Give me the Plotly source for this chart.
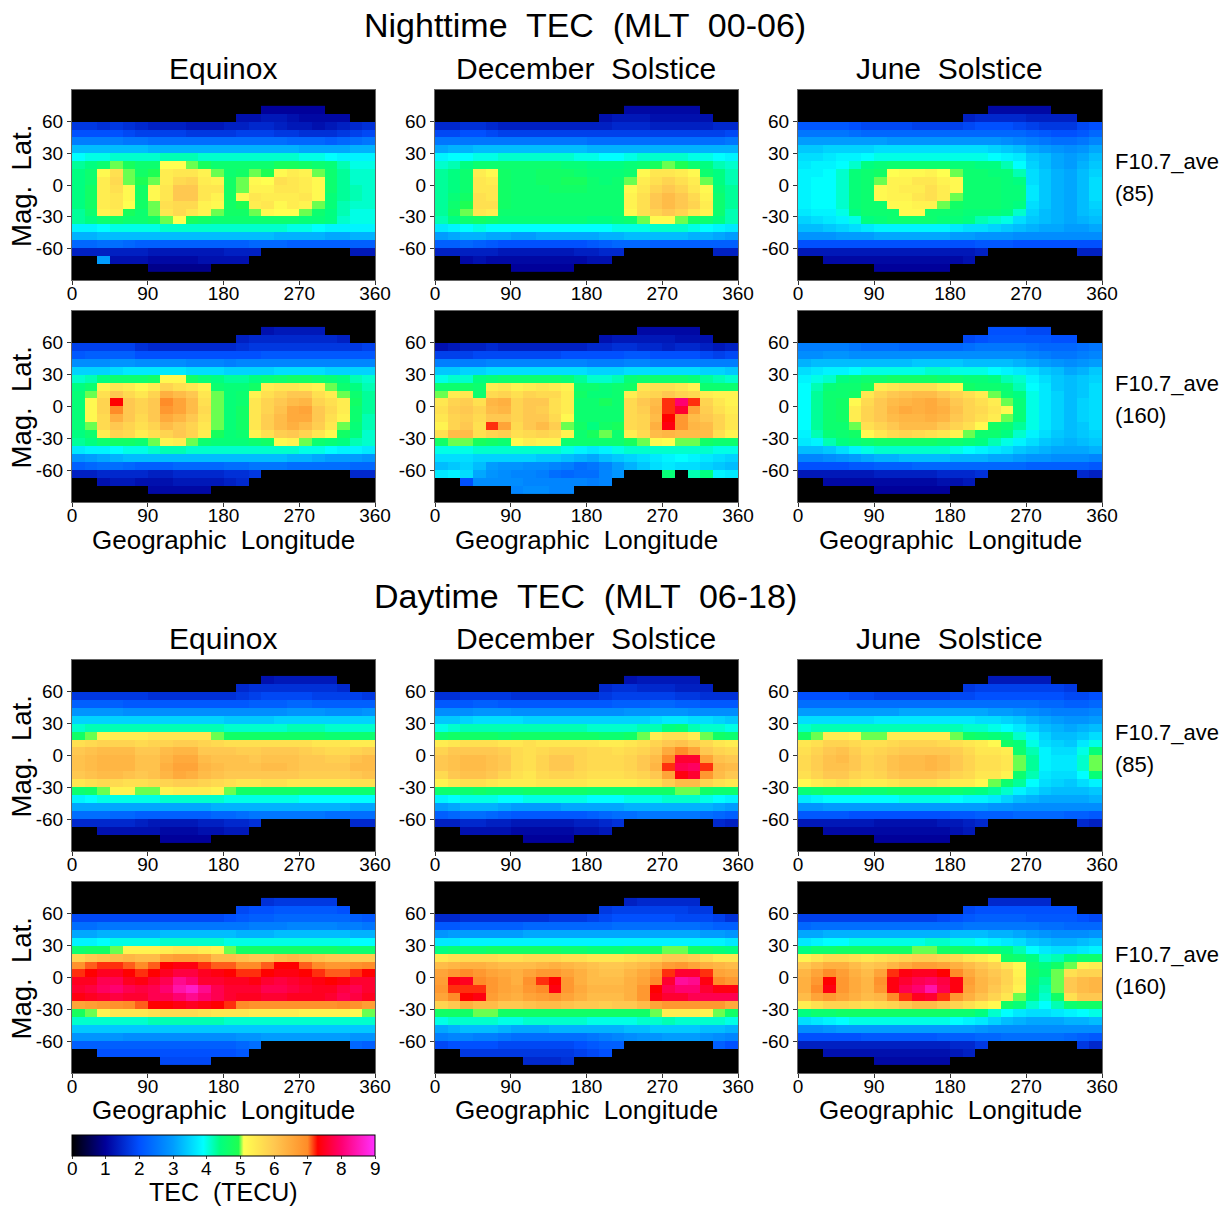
import plotly.graph_objects as go

W, H = 1229, 1207
lon_edges = [15 * i for i in range(25)]
lat_edges = [75 - 7.5 * i for i in range(22)]
x_ticks = [0, 90, 180, 270, 360]
y_ticks = [60, 30, 0, -30, -60]
cbar_ticks = [0, 1, 2, 3, 4, 5, 6, 7, 8, 9]
columns = ["Equinox", "December Solstice", "June Solstice"]

# values are TEC in tenths of a TECU, rows north to south, columns west to east
night_85_equinox = [
[0,0,0,0,0,0,0,0,0,0,0,0,0,0,0,10,10,10,10,10,0,0,0,0],
[0,0,0,0,0,0,0,0,0,0,0,0,0,12,12,13,13,12,11,11,11,11,0,0],
[17,17,16,17,16,15,14,14,14,13,13,13,14,14,15,15,14,13,13,12,13,14,15,16],
[20,20,20,20,19,18,18,18,18,17,17,17,17,18,18,18,17,17,16,16,16,17,18,19],
[26,26,26,26,25,25,24,24,24,24,24,24,24,24,24,24,24,23,23,23,22,23,24,25],
[33,33,33,33,33,33,32,32,32,32,32,32,32,32,32,32,32,32,31,31,31,31,32,32],
[39,40,40,41,41,41,41,42,42,42,41,41,41,41,41,41,41,41,40,40,39,38,38,38],
[43,44,46,50,48,46,46,51,51,50,48,46,46,46,46,46,48,48,47,46,45,42,40,40],
[44,46,52,56,50,47,49,54,55,55,53,50,46,47,50,49,52,54,53,50,46,43,41,41],
[44,46,54,57,50,49,50,54,57,58,54,53,47,50,52,51,56,55,54,52,46,43,41,41],
[44,47,54,56,52,47,52,55,60,60,55,55,47,50,53,53,55,55,54,52,46,43,42,41],
[44,47,54,55,52,47,52,55,60,60,55,53,47,52,55,54,54,54,55,52,45,43,42,41],
[44,47,54,55,51,47,50,56,57,57,53,52,47,49,54,55,52,54,53,50,45,42,41,41],
[43,46,53,54,48,46,50,55,57,55,53,50,47,47,50,52,51,51,50,46,44,42,40,40],
[43,44,46,47,46,46,47,50,51,48,47,46,46,46,46,46,46,46,45,45,44,41,40,40],
[38,38,39,40,40,40,40,41,41,41,41,41,41,41,41,41,41,40,40,39,38,38,38,38],
[32,32,33,33,33,33,33,33,33,33,33,33,33,33,33,33,32,32,32,32,31,31,32,32],
[23,23,24,24,23,22,22,22,22,22,22,22,22,22,23,23,23,22,22,22,22,22,22,22],
[14,14,14,14,14,14,13,13,13,13,13,13,14,14,14,0,0,0,0,0,0,0,13,13],
[0,0,30,12,12,12,11,11,11,11,12,12,12,12,0,0,0,0,0,0,0,0,0,0],
[0,0,0,0,0,0,9,9,9,9,9,0,0,0,0,0,0,0,0,0,0,0,0,0],
]
night_85_december = [
[0,0,0,0,0,0,0,0,0,0,0,0,0,0,0,11,11,11,11,11,11,0,0,0],
[0,0,0,0,0,0,0,0,0,0,0,0,0,12,13,13,13,12,12,12,12,12,0,0],
[15,15,16,16,15,14,14,14,14,14,14,14,14,14,15,15,15,14,14,14,14,14,15,15],
[19,19,20,20,19,18,18,18,18,18,18,18,18,18,18,18,18,18,18,18,18,18,18,19],
[25,25,25,25,25,25,25,25,25,25,25,25,24,24,24,24,24,24,24,24,24,24,24,25],
[31,32,32,33,33,33,33,33,33,33,33,33,32,32,32,32,32,32,32,32,32,32,32,32],
[38,39,39,40,40,41,41,41,41,41,41,40,40,39,39,40,41,41,41,41,40,40,39,38],
[41,42,44,46,46,46,46,46,46,46,45,45,44,44,44,45,46,48,50,49,46,44,42,41],
[43,44,46,54,52,47,46,46,47,47,47,46,45,45,45,46,52,55,55,54,52,46,44,42],
[43,44,46,55,54,47,46,46,47,47,48,48,46,45,46,50,54,56,58,56,54,50,44,42],
[43,44,46,55,55,47,46,46,46,47,47,47,46,46,46,52,55,58,60,58,55,52,45,43],
[43,45,47,56,55,47,46,46,46,46,46,46,46,46,46,53,56,60,62,60,57,53,46,43],
[43,46,49,56,56,47,46,46,46,46,46,46,46,46,46,53,56,60,62,60,58,54,46,43],
[43,47,50,55,54,46,46,46,46,46,46,46,46,46,46,52,56,58,60,58,55,53,46,42],
[42,44,46,47,46,45,45,45,45,45,45,45,44,44,45,46,50,52,52,50,47,46,44,42],
[37,38,39,40,39,39,39,39,39,39,39,39,39,39,40,40,40,41,41,41,40,39,38,37],
[30,31,32,32,31,31,30,30,31,31,31,31,31,32,32,33,33,33,33,33,32,32,31,30],
[22,22,23,22,21,20,20,20,20,20,20,20,21,22,23,23,23,22,22,22,22,22,22,22],
[14,14,14,14,14,13,13,13,13,13,13,14,14,15,15,0,0,0,0,0,0,0,14,14],
[0,0,11,12,11,11,11,11,11,11,11,11,12,12,0,0,0,0,0,0,0,0,0,0],
[0,0,0,0,0,0,10,10,10,10,10,0,0,0,0,0,0,0,0,0,0,0,0,0],
]
night_85_june = [
[0,0,0,0,0,0,0,0,0,0,0,0,0,0,0,11,11,11,11,11,0,0,0,0],
[0,0,0,0,0,0,0,0,0,0,0,0,0,14,15,15,15,15,14,14,14,14,0,0],
[21,21,21,21,20,19,19,19,19,18,18,18,18,19,20,20,20,19,18,17,17,17,19,20],
[25,25,25,25,24,23,23,23,23,23,23,23,23,23,23,23,23,23,22,21,20,20,21,23],
[30,30,30,30,30,30,30,29,29,29,29,29,29,29,29,29,28,27,26,25,24,24,25,27],
[34,34,35,35,35,35,36,36,36,36,36,36,36,36,36,35,34,33,31,30,29,28,29,31],
[36,36,37,38,38,39,40,40,40,40,40,40,40,40,40,39,38,37,34,33,31,30,31,33],
[37,38,38,39,41,44,45,46,46,46,46,46,45,45,44,44,42,39,35,33,31,30,32,34],
[38,38,39,41,45,46,47,51,52,52,53,51,50,46,46,45,45,42,36,34,32,31,33,35],
[38,39,39,41,45,46,50,53,53,55,55,53,52,46,46,46,45,44,36,34,32,31,33,36],
[38,39,39,41,45,46,52,53,54,54,56,54,52,46,46,46,45,45,37,34,32,31,33,36],
[38,39,39,41,45,46,52,53,53,55,56,54,50,46,46,46,45,45,37,34,32,31,33,36],
[38,39,39,41,45,46,46,52,52,53,53,50,47,46,46,46,45,44,36,34,32,31,33,35],
[37,38,38,40,44,46,46,46,52,52,46,46,46,45,45,45,44,41,35,33,32,31,33,34],
[35,36,37,38,40,44,45,46,46,46,46,45,45,44,42,41,40,36,34,33,32,31,32,33],
[33,33,34,35,36,37,38,38,38,38,38,38,37,36,36,35,34,33,32,31,31,30,30,31],
[29,29,29,30,30,30,31,31,31,31,31,31,30,30,29,29,29,28,28,28,28,28,28,28],
[20,20,20,20,20,20,20,20,20,20,20,20,20,20,21,21,21,20,20,20,20,20,20,20],
[13,13,13,13,13,13,13,13,13,13,13,13,13,13,14,0,0,0,0,0,0,0,14,14],
[0,0,11,11,11,11,11,11,11,11,11,11,11,12,0,0,0,0,0,0,0,0,0,0],
[0,0,0,0,0,0,10,10,10,10,10,10,0,0,0,0,0,0,0,0,0,0,0,0],
]
night_160_equinox = [
[0,0,0,0,0,0,0,0,0,0,0,0,0,0,0,12,13,13,13,13,0,0,0,0],
[0,0,0,0,0,0,0,0,0,0,0,0,0,14,15,15,15,15,15,15,15,14,0,0],
[18,18,18,18,18,16,15,15,15,15,15,15,15,16,17,17,17,17,17,17,17,17,17,18],
[21,22,22,22,22,20,20,20,20,20,20,20,20,20,20,21,21,21,21,21,21,21,21,21],
[28,28,28,29,29,28,28,28,28,27,27,27,26,27,27,27,27,27,27,27,27,27,27,27],
[35,35,35,36,37,37,37,37,37,36,36,36,35,35,35,35,36,36,36,36,35,35,35,35],
[41,42,44,46,46,46,47,52,52,47,45,44,43,43,44,45,46,47,47,46,45,44,42,41],
[44,46,53,55,54,52,54,58,56,55,53,46,45,45,47,54,55,55,54,53,50,46,44,42],
[45,50,56,60,57,55,58,64,62,60,55,50,45,46,53,56,58,60,60,56,54,50,46,43],
[45,52,58,73,60,58,60,70,66,62,56,50,45,46,55,58,60,62,63,58,56,54,47,43],
[45,52,58,70,60,58,60,68,66,62,57,50,45,47,55,58,61,65,66,60,57,54,46,43],
[45,52,57,64,60,57,60,65,63,60,56,50,45,47,55,59,62,65,65,60,56,53,46,42],
[45,50,57,60,58,56,58,62,60,58,55,50,45,47,55,59,62,64,62,59,55,50,45,42],
[44,46,54,58,57,54,56,58,60,58,54,48,45,46,53,56,59,60,58,55,52,47,44,41],
[43,44,46,47,47,46,50,53,54,50,46,45,45,45,46,47,52,53,50,46,45,44,42,41],
[37,38,38,39,40,40,41,42,42,41,41,41,41,41,41,41,41,41,40,40,39,38,38,37],
[29,30,31,32,33,33,33,33,33,33,33,33,33,33,33,33,33,32,32,31,30,30,30,29],
[22,23,24,24,23,22,22,22,23,23,23,23,24,24,25,25,25,24,24,24,24,24,23,23],
[14,14,15,15,15,15,14,14,15,15,15,15,16,16,17,0,0,0,0,0,0,0,15,15],
[0,0,12,13,13,12,12,12,13,13,13,13,14,15,0,0,0,0,0,0,0,0,0,0],
[0,0,0,0,0,0,11,11,11,11,11,0,0,0,0,0,0,0,0,0,0,0,0,0],
]
night_160_december = [
[0,0,0,0,0,0,0,0,0,0,0,0,0,0,0,0,11,11,11,11,11,0,0,0],
[0,0,0,0,0,0,0,0,0,0,0,0,0,12,13,13,13,13,13,12,12,12,0,0],
[12,13,14,14,15,14,14,14,14,14,14,14,15,15,16,16,15,15,14,15,15,14,13,14],
[18,18,18,19,19,19,19,19,19,19,20,20,20,20,20,21,21,20,20,20,20,19,18,19],
[26,26,26,26,27,27,27,27,27,27,27,27,26,26,26,27,27,26,26,26,26,26,26,26],
[34,34,35,35,36,36,36,36,36,36,36,36,35,35,35,36,36,36,36,36,36,35,35,34],
[40,41,41,44,45,46,46,46,46,46,45,43,41,41,42,45,46,46,46,46,45,43,42,41],
[46,46,47,46,54,55,53,54,55,54,53,46,46,45,46,47,55,56,56,55,53,46,46,46],
[50,54,55,46,57,58,56,58,57,57,54,47,45,45,46,54,57,58,60,58,57,54,53,53],
[55,58,59,56,63,64,58,60,60,56,54,46,46,48,46,57,60,62,72,80,72,58,55,53],
[56,59,60,58,62,63,58,60,59,56,54,46,46,46,46,57,59,63,72,76,66,59,56,54],
[55,58,59,57,60,60,58,60,60,57,52,46,46,46,46,57,58,62,73,68,62,60,58,55],
[53,58,60,56,72,66,57,60,62,59,50,47,44,47,48,57,58,64,74,68,63,62,58,55],
[56,62,62,56,58,59,56,57,58,57,53,46,48,50,46,54,57,62,63,62,62,62,56,53],
[47,50,50,48,47,46,52,54,53,53,46,46,46,46,46,48,50,52,51,50,50,47,46,46],
[40,40,40,41,41,41,41,41,41,41,40,38,37,38,40,41,41,41,41,41,41,41,40,40],
[36,36,36,35,35,35,35,35,34,34,33,32,31,33,34,35,36,37,38,39,38,37,36,35],
[33,34,35,33,30,29,29,28,28,27,26,24,25,27,30,32,34,36,37,36,36,35,34,33],
[37,38,36,31,29,28,27,27,26,24,23,24,24,27,29,0,0,0,45,0,42,44,38,37],
[0,0,20,28,28,28,28,27,27,27,27,27,26,27,0,0,0,0,0,0,0,0,0,0],
[0,0,0,0,0,0,27,28,28,27,27,0,0,0,0,0,0,0,0,0,0,0,0,0],
]
night_160_june = [
[0,0,0,0,0,0,0,0,0,0,0,0,0,0,0,20,20,20,19,19,0,0,0,0],
[0,0,0,0,0,0,0,0,0,0,0,0,0,19,20,21,21,21,21,21,20,20,0,0],
[26,26,26,26,25,24,24,24,23,23,23,23,23,24,25,25,25,25,24,23,23,23,24,25],
[28,28,29,29,28,28,28,28,28,28,28,28,28,28,28,28,28,28,27,26,25,25,26,27],
[32,33,33,33,33,33,33,33,33,34,34,34,34,33,33,33,33,32,31,30,29,28,29,30],
[36,37,38,38,39,40,40,40,40,40,41,41,40,40,40,39,38,37,36,34,33,31,32,34],
[38,40,41,44,45,46,46,47,47,47,47,46,46,45,45,44,42,41,38,36,34,33,34,35],
[39,42,45,46,46,48,54,55,56,56,56,54,52,47,46,46,45,42,39,37,34,33,34,36],
[39,43,46,46,47,55,58,60,61,62,62,60,58,56,54,50,46,44,40,37,35,33,34,36],
[39,43,46,47,52,57,60,62,63,64,65,63,60,58,56,54,50,45,40,37,35,33,35,36],
[39,43,46,47,54,58,60,63,65,64,65,64,61,58,57,55,52,45,40,37,35,33,35,36],
[39,43,46,47,54,58,60,62,63,63,64,63,60,58,56,54,50,45,40,37,35,33,35,36],
[39,43,46,46,50,56,58,60,62,62,62,60,58,56,52,47,46,43,40,37,35,33,34,36],
[38,42,45,46,47,52,55,57,58,57,56,55,53,50,46,46,44,41,38,36,34,33,34,35],
[37,38,42,44,45,46,47,47,47,47,47,46,46,45,44,42,40,38,36,34,33,32,33,34],
[33,33,34,36,38,40,41,41,41,41,41,41,40,39,38,37,36,34,33,32,31,31,31,32],
[27,27,28,29,30,31,32,32,33,33,33,33,32,32,32,31,31,30,29,29,28,28,28,27],
[20,20,20,20,21,21,22,22,22,23,23,23,23,23,23,23,23,23,22,22,22,22,22,21],
[13,13,13,13,13,13,14,14,14,14,14,15,15,15,16,0,0,0,0,0,0,0,15,14],
[0,0,11,11,11,11,11,11,11,11,11,12,12,13,0,0,0,0,0,0,0,0,0,0],
[0,0,0,0,0,0,10,10,10,10,10,10,0,0,0,0,0,0,0,0,0,0,0,0],
]
day_85_equinox = [
[0,0,0,0,0,0,0,0,0,0,0,0,0,0,0,12,13,13,13,13,13,0,0,0],
[0,0,0,0,0,0,0,0,0,0,0,0,0,15,16,16,16,16,16,16,16,15,0,0],
[17,17,17,17,17,17,16,16,16,16,16,16,16,17,18,19,19,19,19,18,18,18,18,17],
[22,22,22,22,21,21,21,21,21,21,21,21,21,21,22,22,22,23,23,22,22,22,22,22],
[29,29,29,29,28,28,28,28,28,28,28,28,28,28,28,28,28,29,29,29,28,28,28,29],
[35,35,35,35,35,35,35,35,35,35,35,35,34,34,34,34,35,35,35,35,35,35,35,35],
[41,42,42,42,42,42,42,42,42,42,42,42,41,41,41,41,41,42,42,42,41,41,41,41],
[47,50,53,54,54,54,55,55,55,55,55,50,47,47,47,47,47,47,47,47,46,46,46,46],
[56,57,58,58,58,57,58,58,59,59,58,57,56,56,56,56,56,56,56,55,55,55,54,54],
[60,61,62,62,62,60,60,62,63,63,60,60,60,59,59,60,60,60,59,58,57,57,58,59],
[61,62,63,63,63,61,61,63,65,65,62,61,61,61,60,61,61,61,60,60,59,59,61,62],
[61,62,63,63,63,61,61,64,66,66,63,62,61,61,61,62,62,61,60,60,60,60,62,62],
[60,61,62,62,61,60,61,63,65,64,62,61,60,60,60,60,60,60,59,59,59,59,60,61],
[55,56,57,57,56,56,57,58,59,59,58,57,56,55,55,56,56,55,55,55,55,55,56,56],
[46,47,50,53,53,50,50,53,54,54,54,53,50,47,47,47,47,47,46,46,46,46,46,46],
[38,39,40,40,40,40,40,41,41,41,41,41,40,40,40,40,40,40,39,39,39,39,39,39],
[31,31,31,31,31,31,31,31,31,31,31,32,32,32,32,32,32,32,32,32,32,32,31,31],
[24,24,24,23,23,22,22,22,22,22,22,23,23,24,25,25,25,25,25,25,24,24,24,24],
[15,15,15,15,15,14,13,13,13,13,14,14,15,15,16,0,0,0,0,0,0,0,15,15],
[0,0,12,12,12,12,12,11,11,11,12,12,13,13,0,0,0,0,0,0,0,0,0,0],
[0,0,0,0,0,0,0,10,10,10,10,0,0,0,0,0,0,0,0,0,0,0,0,0],
]
day_85_december = [
[0,0,0,0,0,0,0,0,0,0,0,0,0,0,0,12,13,13,13,13,13,0,0,0],
[0,0,0,0,0,0,0,0,0,0,0,0,0,15,16,16,15,15,15,14,14,14,0,0],
[16,16,17,17,17,17,16,16,16,16,16,16,16,17,18,18,18,18,18,17,17,16,16,16],
[21,21,21,22,22,21,21,21,21,21,21,21,21,21,22,22,22,23,23,22,22,21,21,21],
[28,28,28,29,29,29,28,28,28,28,28,28,28,28,28,29,29,29,29,29,28,28,28,28],
[34,34,35,36,36,36,36,35,35,35,35,35,35,35,35,35,35,36,37,37,36,36,35,34],
[40,41,42,42,42,42,42,42,42,42,42,42,41,41,41,41,42,42,44,45,42,41,41,40],
[46,47,47,47,47,46,47,47,47,47,47,47,47,46,46,47,50,54,56,56,54,50,47,46],
[54,55,56,56,56,55,55,56,55,55,55,55,55,54,54,55,56,58,60,61,59,57,55,54],
[58,60,60,60,60,59,57,56,57,58,58,58,57,57,56,57,58,60,65,70,66,60,58,57],
[60,61,62,62,61,60,57,56,58,60,60,58,57,57,57,58,60,62,70,76,76,66,61,60],
[60,61,62,62,61,60,57,56,58,60,60,58,57,57,57,58,60,63,72,78,79,72,63,62],
[57,60,61,61,60,58,56,55,57,58,58,57,56,56,56,57,58,60,66,74,76,68,62,60],
[53,55,56,56,55,54,54,54,55,55,55,55,54,54,54,54,55,56,59,62,62,58,56,55],
[46,46,46,47,46,46,46,47,47,47,47,47,46,46,46,46,46,47,47,50,50,47,46,46],
[38,39,40,40,40,39,39,40,40,40,40,40,39,39,39,40,40,40,41,41,41,40,39,38],
[30,31,32,32,32,31,30,30,30,30,31,31,31,31,31,32,32,32,32,32,32,32,31,30],
[22,23,24,24,23,22,21,21,21,21,21,21,22,23,24,24,25,25,25,25,25,24,23,22],
[14,14,15,15,14,14,13,13,13,13,13,14,14,15,16,0,0,0,0,0,0,0,15,14],
[0,0,12,12,12,12,11,11,11,11,11,12,12,13,0,0,0,0,0,0,0,0,0,0],
[0,0,0,0,0,0,0,10,10,10,10,0,0,0,0,0,0,0,0,0,0,0,0,0],
]
day_85_june = [
[0,0,0,0,0,0,0,0,0,0,0,0,0,0,0,13,13,13,13,13,0,0,0,0],
[0,0,0,0,0,0,0,0,0,0,0,0,0,17,18,18,18,18,18,18,18,17,0,0],
[20,20,20,20,19,19,18,18,18,18,18,18,19,19,20,20,20,20,20,20,20,19,19,20],
[24,24,24,24,24,24,24,24,24,24,24,24,24,24,24,24,24,24,24,23,23,22,22,23],
[30,30,30,30,30,30,30,30,31,31,31,31,31,31,31,30,30,29,28,27,26,26,26,27],
[36,36,36,36,36,36,37,37,37,37,37,37,37,37,36,36,35,34,32,31,30,29,29,30],
[41,42,42,42,42,42,42,42,42,42,42,42,42,41,41,40,39,37,35,33,32,31,32,33],
[47,50,54,54,53,50,50,54,54,54,54,54,50,47,46,45,44,41,38,35,33,33,34,36],
[55,56,58,58,57,56,56,57,58,58,58,57,56,55,54,52,47,45,40,36,35,34,37,40],
[56,58,60,61,59,57,58,59,60,60,60,60,59,57,55,55,54,46,42,38,36,36,40,45],
[57,59,61,62,60,58,59,61,62,62,63,62,60,58,56,56,55,50,43,38,37,37,41,50],
[57,59,61,61,60,58,59,61,62,62,63,62,60,58,56,56,55,50,43,38,37,37,41,50],
[56,58,60,60,58,57,58,60,61,61,61,60,58,57,55,55,53,46,42,37,36,36,39,45],
[52,54,55,56,55,54,54,55,56,56,56,55,54,54,52,50,46,43,39,36,35,34,36,38],
[45,46,47,47,47,46,46,47,47,47,47,47,46,45,44,43,41,38,36,34,33,33,33,34],
[37,38,39,39,39,39,39,39,40,40,40,40,39,38,38,37,35,33,32,31,31,31,31,32],
[29,29,30,30,30,30,30,30,30,30,30,30,30,30,30,29,29,28,28,28,28,28,28,28],
[21,21,21,21,20,20,20,20,20,20,20,20,21,21,22,22,22,23,23,23,23,22,22,21],
[13,13,13,13,13,13,12,12,12,12,12,13,13,14,15,0,0,0,0,0,0,0,15,14],
[0,0,11,11,11,11,11,11,11,11,11,11,12,13,0,0,0,0,0,0,0,0,0,0],
[0,0,0,0,0,0,10,10,10,10,10,10,0,0,0,0,0,0,0,0,0,0,0,0],
]
day_160_equinox = [
[0,0,0,0,0,0,0,0,0,0,0,0,0,0,0,16,17,17,17,17,17,0,0,0],
[0,0,0,0,0,0,0,0,0,0,0,0,0,19,20,20,21,21,21,21,21,20,0,0],
[19,19,19,19,19,19,19,19,19,19,19,19,20,21,22,22,23,23,23,23,23,23,22,21],
[24,24,25,25,25,25,25,25,25,25,25,25,25,25,26,26,26,27,27,27,27,26,26,25],
[31,31,32,32,32,32,32,33,33,33,33,33,33,32,32,32,33,33,33,33,33,33,32,32],
[38,38,39,40,40,40,40,41,41,41,41,41,40,40,40,40,40,40,40,40,40,40,39,39],
[46,47,47,50,53,53,53,54,55,55,54,53,50,47,47,47,47,47,47,47,47,46,46,46],
[58,60,61,62,63,62,62,66,67,67,66,62,62,61,60,60,62,63,62,61,60,60,59,59],
[69,71,72,72,71,70,71,73,74,74,72,71,71,70,70,71,73,73,71,70,68,68,69,70],
[72,73,75,75,73,72,73,75,77,77,75,74,73,72,72,73,74,74,73,72,71,71,72,73],
[75,75,78,78,75,74,76,78,82,80,76,76,75,75,74,76,77,76,75,74,73,74,76,76],
[76,77,79,80,78,77,78,80,84,86,82,78,76,76,76,78,78,77,76,75,75,77,78,76],
[74,75,76,77,76,76,78,78,80,82,80,78,76,75,75,76,76,75,75,75,76,78,77,75],
[66,67,68,69,70,71,73,73,74,75,74,73,72,70,69,69,69,69,69,69,69,70,69,67],
[48,50,53,55,55,55,56,57,57,57,56,55,55,55,54,54,54,54,53,53,53,53,52,50],
[41,41,41,41,41,41,42,42,42,42,42,42,41,41,41,41,41,41,41,41,41,41,41,41],
[34,34,34,34,34,34,34,34,34,34,34,34,34,34,34,34,34,34,34,34,34,34,34,34],
[29,29,29,29,28,28,28,28,28,28,28,28,28,29,29,30,30,30,30,30,30,30,29,29],
[22,22,22,22,22,22,22,22,22,22,22,22,22,23,24,0,0,0,0,0,0,0,23,22],
[0,0,20,20,20,20,20,20,20,20,20,20,20,21,0,0,0,0,0,0,0,0,0,0],
[0,0,0,0,0,0,0,19,19,19,19,0,0,0,0,0,0,0,0,0,0,0,0,0],
]
day_160_december = [
[0,0,0,0,0,0,0,0,0,0,0,0,0,0,0,14,15,15,15,15,15,0,0,0],
[0,0,0,0,0,0,0,0,0,0,0,0,0,17,18,18,18,18,18,18,17,17,0,0],
[15,15,16,16,16,16,16,16,16,17,17,17,18,19,20,20,20,20,20,19,19,19,18,16],
[21,21,22,22,22,22,22,23,23,23,23,23,23,23,24,24,24,24,24,24,24,23,22,22],
[29,30,30,30,30,30,30,31,31,31,31,31,31,31,31,31,31,31,31,31,31,30,30,29],
[37,37,38,38,38,38,38,38,38,38,38,38,38,38,38,38,38,38,38,38,38,38,38,37],
[44,45,46,46,47,47,47,47,47,47,46,46,45,45,45,46,46,47,50,50,47,46,45,44],
[55,56,57,57,57,56,56,57,57,57,56,56,55,55,55,56,57,58,60,60,59,57,55,55],
[62,63,64,64,63,62,62,62,63,64,63,62,61,60,60,61,62,64,67,68,66,64,63,62],
[66,68,70,68,66,65,64,66,68,68,66,64,62,61,61,63,65,68,72,76,76,72,66,65],
[67,74,75,70,68,66,64,69,72,73,68,64,62,62,62,64,66,70,76,83,82,74,70,68],
[68,72,72,72,68,66,65,68,70,74,68,65,63,63,63,64,68,73,78,80,80,76,74,74],
[66,70,73,74,67,65,64,66,67,68,66,64,62,62,62,64,68,74,76,76,78,78,78,78],
[58,60,64,62,62,60,60,61,62,62,61,60,60,59,60,60,62,66,68,68,68,68,68,65],
[47,47,47,50,50,47,47,47,47,47,47,47,47,47,47,47,47,50,54,54,54,53,50,47],
[40,41,41,41,41,40,40,41,41,41,41,41,40,40,40,40,41,41,42,41,41,41,41,40],
[31,32,33,33,33,32,31,31,31,32,32,32,32,32,32,33,33,34,34,34,34,33,33,32],
[26,27,27,26,26,25,24,24,24,24,24,24,25,26,27,28,29,29,30,30,30,29,28,27],
[19,20,20,20,20,19,19,19,19,19,19,20,21,22,22,0,0,0,0,0,0,0,22,20],
[0,0,17,17,17,17,17,17,17,17,17,18,19,20,0,0,0,0,0,0,0,0,0,0],
[0,0,0,0,0,0,0,15,15,15,16,0,0,0,0,0,0,0,0,0,0,0,0,0],
]
day_160_june = [
[0,0,0,0,0,0,0,0,0,0,0,0,0,0,0,15,15,15,15,15,0,0,0,0],
[0,0,0,0,0,0,0,0,0,0,0,0,0,19,20,20,20,20,20,20,20,20,0,0],
[18,18,18,18,18,18,18,18,18,18,18,19,20,21,22,22,22,22,21,21,21,21,20,19],
[23,24,24,24,24,24,24,24,24,24,24,24,24,25,25,25,25,25,25,24,24,23,23,23],
[31,31,32,32,32,32,32,32,32,32,32,32,33,33,33,32,32,31,30,29,28,28,28,29],
[37,38,39,39,40,40,40,40,40,40,41,41,40,40,39,38,37,36,34,33,32,32,33,34],
[44,46,46,47,47,47,47,47,47,50,50,47,47,46,46,45,44,42,39,37,36,36,37,38],
[53,55,57,57,56,55,56,57,58,59,59,58,57,55,54,52,47,46,44,41,42,44,46,46],
[60,62,64,64,62,60,61,63,65,67,67,66,64,62,60,58,55,52,46,44,47,50,53,54],
[63,66,70,67,64,62,66,72,74,75,75,73,70,65,62,60,58,53,47,45,50,56,58,58],
[64,68,73,68,65,63,69,74,76,78,79,77,74,67,63,61,58,54,46,43,50,60,62,63],
[64,70,74,68,65,63,68,74,78,80,84,78,74,66,63,60,57,53,45,42,50,60,62,63],
[62,66,68,66,64,62,63,70,72,75,76,72,68,64,61,58,55,50,44,41,47,56,60,60],
[54,56,58,58,57,56,57,58,60,62,62,60,58,56,54,52,47,45,41,39,42,46,47,47],
[44,46,46,47,47,47,47,47,47,47,47,47,46,46,44,41,39,37,36,36,37,38,39,40],
[36,37,38,39,40,40,40,40,40,40,40,40,39,38,37,35,33,32,31,31,31,32,32,33],
[28,28,29,30,30,30,30,30,30,30,30,30,30,30,29,28,28,28,28,28,28,28,28,28],
[20,20,20,20,20,21,21,21,21,21,21,22,22,22,23,23,24,24,24,24,24,23,22,21],
[14,14,14,14,14,14,14,14,14,14,14,14,15,15,17,0,0,0,0,0,0,0,17,15],
[0,0,12,12,12,12,12,12,12,12,12,12,13,14,0,0,0,0,0,0,0,0,0,0],
[0,0,0,0,0,0,11,11,11,11,11,11,0,0,0,0,0,0,0,0,0,0,0,0],
]

panels = [
    [night_85_equinox, night_85_december, night_85_june],
    [night_160_equinox, night_160_december, night_160_june],
    [day_85_equinox, day_85_december, day_85_june],
    [day_160_equinox, day_160_december, day_160_june],
]

FONT = "Liberation Sans"
colorscale = [
    [0.0, "#000000"], [1/9, "#00009a"], [2/9, "#0050ff"], [3/9, "#009cff"],
    [3.9/9, "#00ffff"], [4.4/9, "#00ff80"], [4.95/9, "#20ff50"], [5.1/9, "#ffff50"],
    [6/9, "#ffc850"], [7/9, "#ff8c28"], [7.3/9, "#ff0000"], [8/9, "#ff0070"],
    [1.0, "#ff30ff"],
]

fig = go.Figure()
x_px = [(72, 375), (435, 738), (798, 1102)]
y_px = [(90, 280), (311, 502), (660, 851), (882, 1073)]


def fx(p):
    return p / W


def fy(p):
    return 1 - p / H


ann = []
for r in range(4):
    for c in range(3):
        n = r * 3 + c + 1
        suffix = "" if n == 1 else str(n)
        fig.add_trace(go.Heatmap(
            x=lon_edges, y=lat_edges, z=[[v / 10 for v in row] for row in panels[r][c]],
            coloraxis="coloraxis", xaxis="x" + suffix, yaxis="y" + suffix,
        ))
        common = dict(showline=True, linecolor="#666666", linewidth=1, mirror=True, showgrid=False,
                      zeroline=False, ticks="outside", ticklen=4, tickcolor="#333333", tickwidth=1,
                      tickfont=dict(family=FONT, size=19, color="black"))
        fig.layout["xaxis" + suffix] = go.layout.XAxis(
            domain=[fx(x_px[c][0]), fx(x_px[c][1])], range=[0, 360],
            tickmode="array", tickvals=x_ticks, ticktext=[str(v) for v in x_ticks],
            ticklabelstandoff=-8, anchor="y" + suffix, **common)
        fig.layout["yaxis" + suffix] = go.layout.YAxis(
            domain=[fy(y_px[r][1]), fy(y_px[r][0])], range=[-90, 90],
            tickmode="array", tickvals=y_ticks, ticktext=[str(v) for v in y_ticks],
            anchor="x" + suffix, **common)


def text(s, x, y, size, angle=0, anchor="center"):
    ann.append(dict(text=s, x=fx(x), y=fy(y), xref="paper", yref="paper", showarrow=False,
                    textangle=angle, xanchor=anchor, yanchor="middle",
                    font=dict(family=FONT, size=size, color="black")))


text("Nighttime  TEC  (MLT  00-06)", 585, 25, 34)
text("Daytime  TEC  (MLT  06-18)", 585, 596, 34)
for yy in (68, 638):
    for c, name in enumerate(columns):
        text(name.replace(" ", "  "), (x_px[c][0] + x_px[c][1]) / 2 - 1, yy, 30)
for yy in (540, 1110):
    for c in range(3):
        text("Geographic  Longitude", (x_px[c][0] + x_px[c][1]) / 2, yy, 26)
for r in range(4):
    text("Mag.  Lat.", 21, (y_px[r][0] + y_px[r][1]) / 2 + 1, 27.5, angle=-90)
for yy, lab in ((162, "(85)"), (384, "(160)"), (732, "(85)"), (954, "(160)")):
    text("F10.7_ave", 1113, yy, 22, anchor="left")
    text(lab, 1113, yy + 32, 22, anchor="left")
for t in cbar_ticks:
    text(str(t), 72 + t * 303 / 9, 1168, 19)
text("TEC  (TECU)", 223, 1192, 25)

fig.update_layout(
    width=W, height=H, margin=dict(l=0, r=0, t=0, b=0, autoexpand=False),
    paper_bgcolor="white", plot_bgcolor="black", annotations=ann, showlegend=False,
    coloraxis=dict(
        cmin=0, cmax=9, colorscale=colorscale,
        colorbar=dict(
            orientation="h", x=fx(72), xanchor="left", y=fy(1135), yanchor="top",
            lenmode="pixels", len=303, thicknessmode="pixels", thickness=21, xpad=0, ypad=0,
            outlinecolor="black", outlinewidth=1,
            tickmode="array", tickvals=cbar_ticks, showticklabels=False,
            ticks="outside", ticklen=3,
        ),
    ),
)

fig.write_html("out.html", config={"displayModeBar": False},
               post_script="document.body.style.margin='0';")
